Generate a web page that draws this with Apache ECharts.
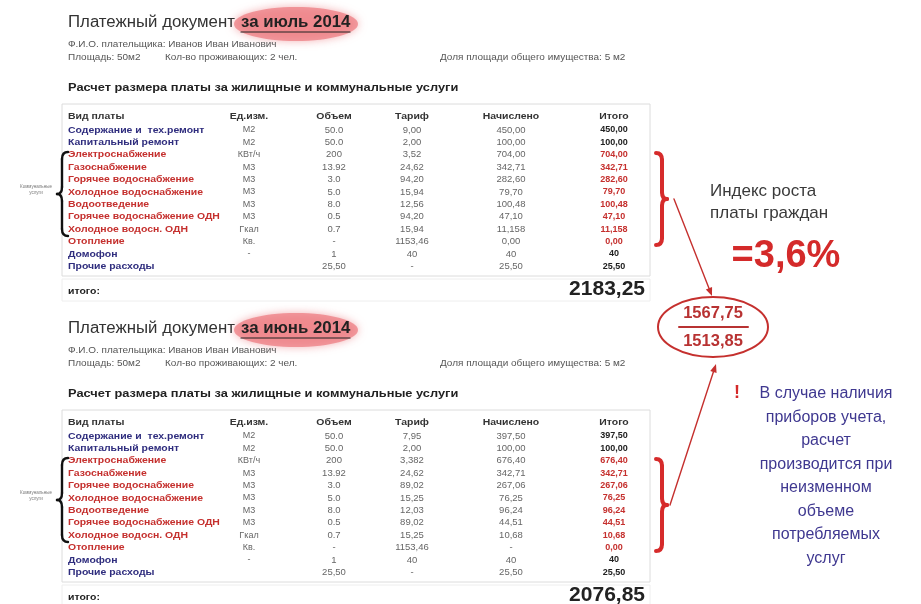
<!DOCTYPE html>
<html>
<head>
<meta charset="utf-8">
<script src="https://cdn.jsdelivr.net/npm/echarts@6/dist/echarts.min.js"></script>
<style>
  html, body { margin: 0; padding: 0; background: #fff; }
  #bill-chart { width: 921px; height: 604px; }
</style>
</head>
<body>
<div id="bill-chart"></div>
<script>
// table rows
const rowNames = ['Содержание и  тех.ремонт', 'Капитальный ремонт', 'Электроснабжение', 'Газоснабжение',
  'Горячее водоснабжение', 'Холодное водоснабжение', 'Водоотведение', 'Горячее водоснабжение ОДН',
  'Холодное водосн. ОДН', 'Отопление', 'Домофон', 'Прочие расходы'];
const rowKinds = ['b', 'b', 'r', 'r', 'r', 'r', 'r', 'r', 'r', 'r', 'b', 'b']; // b = housing, r = utilities
const units = ['М2', 'М2', 'КВт/ч', 'М3', 'М3', 'М3', 'М3', 'М3', 'Гкал', 'Кв.', '-', ''];
const volumes = ['50.0', '50.0', '200', '13.92', '3.0', '5.0', '8.0', '0.5', '0.7', '-', '1', '25,50'];
const headers = ['Вид платы', 'Ед.изм.', 'Объем', 'Тариф', 'Начислено', 'Итого'];

// July 2014
const julyTariffs = ['9,00', '2,00', '3,52', '24,62', '94,20', '15,94', '12,56', '94,20', '15,94', '1153,46', '40', '-'];
const julyCharged = ['450,00', '100,00', '704,00', '342,71', '282,60', '79,70', '100,48', '47,10', '11,158', '0,00', '40', '25,50'];
const julyTotals = ['450,00', '100,00', '704,00', '342,71', '282,60', '79,70', '100,48', '47,10', '11,158', '0,00', '40', '25,50'];
const julySum = '2183,25';

// June 2014
const juneTariffs = ['7,95', '2,00', '3,382', '24,62', '89,02', '15,25', '12,03', '89,02', '15,25', '1153,46', '40', '-'];
const juneCharged = ['397,50', '100,00', '676,40', '342,71', '267,06', '76,25', '96,24', '44,51', '10,68', '-', '40', '25,50'];
const juneTotals = ['397,50', '100,00', '676,40', '342,71', '267,06', '76,25', '96,24', '44,51', '10,68', '0,00', '40', '25,50'];
const juneSum = '2076,85';

// utilities subtotal and growth index
const utilFraction = ['1567,75', '1513,85'];
const growthIndex = '=3,6%';
const growthLabel = ['Индекс роста', 'платы граждан'];
const noteLines = ['В случае наличия', 'приборов учета,', 'расчет', 'производится при', 'неизменном', 'объеме', 'потребляемых', 'услуг'];

const FONT = '"Liberation Sans", Arial, sans-serif';
const BLUE = '#2f2d7e';
const RED = '#c5302e';

function txt(x, y, text, size, color, opts) {
  opts = opts || {};
  const align = opts.align || 'left';
  return {
    type: 'text', x: x, y: y, scaleX: opts.sx || 1, silent: true,
    style: {
      text: text,
      font: (opts.bold ? 'bold ' : '') + size + 'px ' + FONT,
      fill: color,
      align: align, verticalAlign: 'middle',
      textAlign: align, textVerticalAlign: 'middle'
    }
  };
}

function seg(x1, y1, x2, y2, color, w) {
  return { type: 'line', silent: true, shape: { x1, y1, x2, y2 }, style: { stroke: color, lineWidth: w, lineCap: 'round' } };
}

function curve(x1, y1, cx, cy, x2, y2, color, w) {
  return { type: 'bezierCurve', silent: true, shape: { x1, y1, x2, y2, cpx1: cx, cpy1: cy },
    style: { stroke: color, lineWidth: w, fill: 'none', lineCap: 'round' } };
}

// curly brace; dir = 1 points right "}", -1 points left "{"
function brace(xEnd, top, bot, dir, color, w) {
  const mid = (top + bot) / 2;
  const xm = xEnd + dir * 6, xt = xEnd + dir * 11, r = 7;
  return [
    curve(xEnd, top, xm, top, xm, top + r, color, w),
    seg(xm, top + r, xm, mid - r, color, w),
    curve(xm, mid - r, xm, mid, xt, mid, color, w),
    curve(xt, mid, xm, mid, xm, mid + r, color, w),
    seg(xm, mid + r, xm, bot - r, color, w),
    curve(xm, bot - r, xm, bot, xEnd, bot, color, w)
  ];
}

function arrow(x1, y1, x2, y2, color) {
  const a = Math.atan2(y2 - y1, x2 - x1), L = 9, s = 0.38;
  return [
    seg(x1, y1, x2 - Math.cos(a) * 4, y2 - Math.sin(a) * 4, color, 1.4),
    { type: 'polygon', silent: true, shape: { points: [[x2, y2],
      [x2 - L * Math.cos(a - s), y2 - L * Math.sin(a - s)],
      [x2 - L * Math.cos(a + s), y2 - L * Math.sin(a + s)]] }, style: { fill: color } }
  ];
}

function billDoc(y0, month, tariffs, charged, totals, sum) {
  const els = [];
  // highlighted month
  els.push({ type: 'ellipse', silent: true, shape: { cx: 296, cy: y0 + 24, rx: 62, ry: 17 },
    style: { fill: 'rgba(236,120,125,0.7)', shadowBlur: 8, shadowColor: 'rgba(236,120,125,0.8)' } });
  els.push(txt(68, y0 + 23, 'Платежный документ', 16, '#333', { sx: 1.05 }));
  els.push(txt(241, y0 + 23, month, 16, '#222', { bold: true, sx: 1.05 }));
  els.push(seg(241, y0 + 32, 350, y0 + 32, '#222', 1.2));
  els.push(txt(68, y0 + 44, 'Ф.И.О. плательщика: Иванов Иван Иванович', 9.5, '#555', { sx: 1.05 }));
  els.push(txt(68, y0 + 57, 'Площадь: 50м2', 9.5, '#555', { sx: 1.05 }));
  els.push(txt(165, y0 + 57, 'Кол-во проживающих: 2 чел.', 9.5, '#555', { sx: 1.05 }));
  els.push(txt(440, y0 + 57, 'Доля площади общего имущества: 5 м2', 9.5, '#555', { sx: 1.05 }));
  els.push(txt(68, y0 + 88, 'Расчет размера платы за жилищные и коммунальные услуги', 10.5, '#222', { bold: true, sx: 1.22 }));

  // table frame
  els.push({ type: 'rect', silent: true, shape: { x: 62, y: y0 + 104, width: 588, height: 172 },
    style: { fill: 'none', stroke: '#dcdcdc', lineWidth: 1 } });
  els.push({ type: 'rect', silent: true, shape: { x: 62, y: y0 + 279, width: 588, height: 22 },
    style: { fill: 'none', stroke: '#eeeeee', lineWidth: 1 } });

  const colX = [68, 249, 334, 412, 511, 614];
  headers.forEach((h, j) => {
    els.push(txt(colX[j], y0 + 116, h, 9.5, '#333', { bold: true, align: j === 0 ? 'left' : 'center', sx: 1.1 }));
  });
  rowNames.forEach((name, i) => {
    const y = y0 + 130 + i * 12.4;
    const red = rowKinds[i] === 'r';
    els.push(txt(colX[0], y, name, 9.5, red ? RED : BLUE, { bold: true, sx: 1.1 }));
    els.push(txt(colX[1], y, units[i], 9, '#666', { align: 'center' }));
    els.push(txt(colX[2], y, volumes[i], 9.5, '#666', { align: 'center' }));
    els.push(txt(colX[3], y, tariffs[i], 9.5, '#666', { align: 'center' }));
    els.push(txt(colX[4], y, charged[i], 9.5, '#666', { align: 'center' }));
    els.push(txt(colX[5], y, totals[i], 9, red ? RED : '#222', { bold: true, align: 'center' }));
  });
  els.push(txt(68, y0 + 291, 'итого:', 9.5, '#222', { bold: true, sx: 1.1 }));
  els.push(txt(645, y0 + 289, sum, 21, '#222', { bold: true, align: 'right' }));

  // bracket around utilities
  brace(68, y0 + 152, y0 + 236, -1, '#111', 2.4).forEach(e => els.push(e));
  els.push(txt(36, y0 + 187, 'Коммунальные', 4.5, '#777', { align: 'center' }));
  els.push(txt(36, y0 + 193, 'услуги', 4.5, '#777', { align: 'center' }));
  brace(656, y0 + 153, y0 + 245, 1, '#d62b2b', 4).forEach(e => els.push(e));
  return els;
}

const chartDom = document.getElementById('bill-chart');
const myChart = echarts.init(chartDom, null, { renderer: 'canvas' });

let elements = [];
elements = elements.concat(billDoc(0, 'за июль 2014', julyTariffs, julyCharged, julyTotals, julySum));
elements = elements.concat(billDoc(306, 'за июнь 2014', juneTariffs, juneCharged, juneTotals, juneSum));

// arrows into the fraction
elements = elements.concat(arrow(674, 199, 712, 296, RED));
elements = elements.concat(arrow(670, 505, 716, 364, RED));

// fraction in ellipse
elements.push({ type: 'ellipse', silent: true, shape: { cx: 713, cy: 327, rx: 55, ry: 30 },
  style: { fill: 'none', stroke: RED, lineWidth: 2 } });
elements.push(txt(713, 313, utilFraction[0], 16.5, '#b83232', { bold: true, align: 'center' }));
elements.push(seg(679, 327, 748, 327, '#b83232', 2));
elements.push(txt(713, 341, utilFraction[1], 16.5, '#b83232', { bold: true, align: 'center' }));

// growth index
elements.push(txt(710, 191, growthLabel[0], 17, '#3a3a3a'));
elements.push(txt(710, 213, growthLabel[1], 17, '#3a3a3a'));
elements.push(txt(786, 257, growthIndex, 38, '#d42a2a', { bold: true, align: 'center' }));

// note
elements.push(txt(734, 393, '!', 18, '#d42a2a', { bold: true }));
noteLines.forEach((line, i) => {
  elements.push(txt(826, 394 + i * 23.5, line, 16, '#3f3890', { align: 'center' }));
});

const option = {
  backgroundColor: '#ffffff',
  animation: false,
  graphic: { elements: elements }
};

myChart.setOption(option);
window.addEventListener('resize', () => myChart.resize());
</script>
</body>
</html>
